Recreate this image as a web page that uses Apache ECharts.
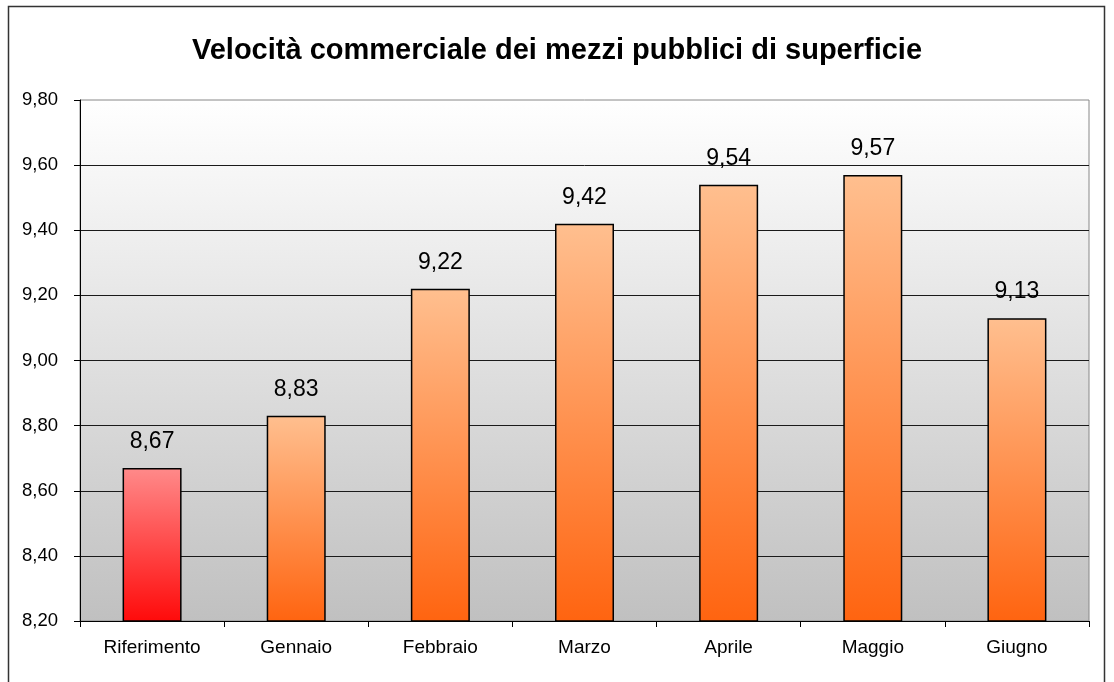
<!DOCTYPE html>
<html>
<head>
<meta charset="utf-8">
<script src="https://cdn.jsdelivr.net/npm/echarts@6/dist/echarts.min.js"></script>
<style>
  html, body { margin: 0; padding: 0; background: #fff; }
  #chart { width: 1114px; height: 682px; }
</style>
</head>
<body>
<div id="chart"></div>
<script>
var categories = ['Riferimento', 'Gennaio', 'Febbraio', 'Marzo', 'Aprile', 'Maggio', 'Giugno'];
var velocita = [8.67, 8.83, 9.22, 9.42, 9.54, 9.57, 9.13];

function comma(v) {
    return Number(v).toFixed(2).replace('.', ',');
}

var redFill = new echarts.graphic.LinearGradient(0, 0, 0, 1, [
    { offset: 0, color: '#ff8a8a' },
    { offset: 1, color: '#ff0a0a' }
]);
var orangeFill = new echarts.graphic.LinearGradient(0, 0, 0, 1, [
    { offset: 0, color: '#ffbf8f' },
    { offset: 1, color: '#ff6410' }
]);

var barData = velocita.map(function (v, i) {
    return { value: v, itemStyle: { color: i === 0 ? redFill : orangeFill } };
});

var chart = echarts.init(document.getElementById('chart'), null, { renderer: 'canvas' });

chart.setOption({
    animation: false,
    textStyle: { fontFamily: 'Liberation Sans, Arial, sans-serif' },
    title: {
        text: 'Velocità commerciale dei mezzi pubblici di superficie',
        left: 'center',
        top: 31,
        textStyle: { fontSize: 29, fontWeight: 'bold', color: '#000' }
    },
    graphic: [{
        type: 'rect',
        shape: { x: 8.5, y: 6.5, width: 1096, height: 680 },
        style: { fill: 'none', stroke: '#333', lineWidth: 1.5 },
        silent: true
    }],
    grid: {
        left: 80,
        right: 25,
        top: 100,
        bottom: 61,
        show: true,
        borderColor: '#888',
        borderWidth: 1,
        backgroundColor: new echarts.graphic.LinearGradient(0, 0, 0, 1, [
            { offset: 0, color: '#ffffff' },
            { offset: 1, color: '#c0c0c0' }
        ])
    },
    xAxis: {
        type: 'category',
        data: categories,
        axisLine: { lineStyle: { color: '#000', width: 1 } },
        axisTick: { show: true, length: 6, alignWithLabel: false, lineStyle: { color: '#000' } },
        axisLabel: { color: '#000', fontSize: 19, margin: 17 }
    },
    yAxis: {
        type: 'value',
        min: 8.2,
        max: 9.8,
        interval: 0.2,
        axisLine: { show: true, lineStyle: { color: '#000', width: 1 } },
        axisTick: { show: true, length: 6, lineStyle: { color: '#000' } },
        axisLabel: {
            color: '#000',
            fontSize: 18.5,
            margin: 22,
            formatter: function (v) { return comma(v); }
        },
        splitLine: {
            show: true,
            showMaxLine: false,
            lineStyle: { color: '#1a1a1a', width: 1 }
        }
    },
    series: [{
        type: 'bar',
        data: barData,
        barWidth: 59,
        itemStyle: { borderColor: '#000', borderWidth: 1.5 },
        label: {
            show: true,
            position: 'top',
            distance: 15,
            color: '#000',
            fontSize: 23,
            formatter: function (p) { return comma(p.value); }
        }
    }]
});
</script>
</body>
</html>
